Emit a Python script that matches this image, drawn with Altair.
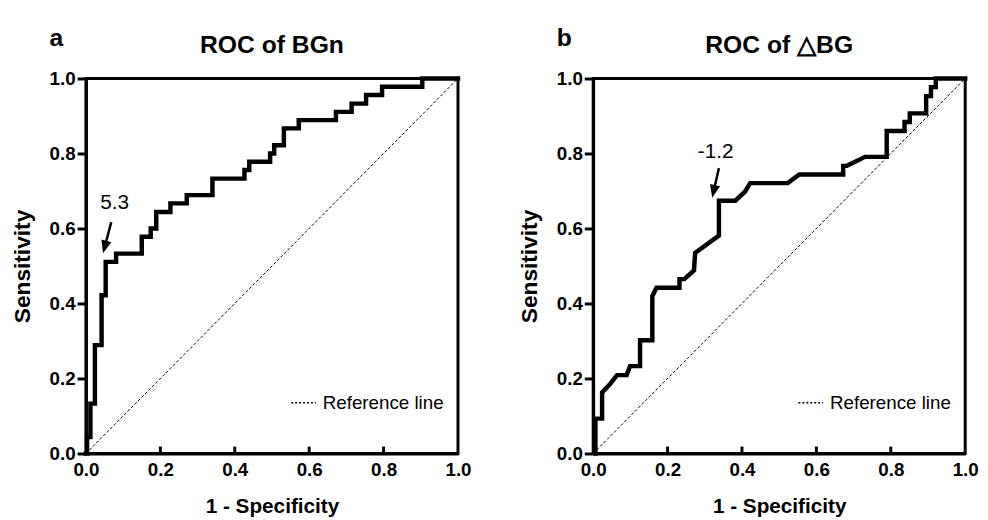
import math
import altair as alt
import pandas as pd

FONT = "Liberation Sans"
W, H = 377, 380

panel_letters = ["a", "b"]
panel_titles = ["ROC of BGn", "ROC of \u25b3BG"]
ref_label = "Reference line"
x_title = "1 - Specificity"
y_title = "Sensitivity"

# Panel a (BGn): ROC points (step-after staircase)
fpr_a = [0.0, 0.003, 0.012, 0.024, 0.042, 0.053, 0.081, 0.150, 0.174, 0.189,
         0.227, 0.271, 0.340, 0.426, 0.439, 0.495, 0.506, 0.532, 0.572, 0.672,
         0.714, 0.753, 0.796, 0.904, 1.0]
tpr_a = [0.0, 0.044, 0.133, 0.289, 0.422, 0.511, 0.533, 0.578, 0.600, 0.644,
         0.667, 0.689, 0.733, 0.756, 0.778, 0.800, 0.822, 0.867, 0.889, 0.911,
         0.933, 0.956, 0.978, 1.0, 1.0]

# Panel b (delta BG): ROC points (linear)
fpr_b = [0.006, 0.006, 0.024, 0.024, 0.046, 0.064, 0.090, 0.099, 0.126, 0.126,
         0.159, 0.159, 0.170, 0.232, 0.232, 0.245, 0.271, 0.274, 0.338, 0.338,
         0.382, 0.408, 0.422, 0.523, 0.554, 0.672, 0.672, 0.682, 0.731, 0.789,
         0.789, 0.837, 0.837, 0.851, 0.851, 0.895, 0.895, 0.908, 0.908, 0.921,
         0.921, 1.0]
tpr_b = [0.0, 0.093, 0.093, 0.163, 0.186, 0.209, 0.209, 0.233, 0.233, 0.302,
         0.302, 0.419, 0.442, 0.442, 0.465, 0.465, 0.488, 0.535, 0.581, 0.674,
         0.674, 0.698, 0.721, 0.721, 0.744, 0.744, 0.767, 0.767, 0.791, 0.791,
         0.860, 0.860, 0.884, 0.884, 0.907, 0.907, 0.953, 0.953, 0.977, 0.977,
         1.0, 1.0]

cutoff_labels = ["5.3", "-1.2"]
label_x = [0.077, 0.329]
label_y = [0.669, 0.805]
arrow_tail_x = [0.068, 0.338]
arrow_tail_y = [0.617, 0.761]
arrow_head_x = [0.046, 0.320]
arrow_head_y = [0.534, 0.682]

ref_x = [0.0, 1.0]
ref_y = [0.0, 1.0]
axis_ticks = [0.0, 0.2, 0.4, 0.6, 0.8, 1.0]
inner_ticks = [0.2, 0.4, 0.6, 0.8]

ARROW_PATH = "M0,0L-0.4,-1L0.4,-1Z"


def make_panel(i, fpr, tpr, interp):
    scale = alt.Scale(domain=[0, 1], nice=False, zero=False)
    x_enc = alt.X(
        "x:Q", scale=scale,
        axis=alt.Axis(values=axis_ticks, format=".1f", title=x_title,
                      ticks=False, grid=False, domainWidth=3, domainColor="black",
                      labelFontSize=19, labelFontWeight="bold", labelColor="black",
                      labelPadding=7, labelFlush=False, labelOverlap=False,
                      titleFontSize=21, titleFontWeight="bold", titleColor="black",
                      titlePadding=17, labelFont=FONT, titleFont=FONT))
    y_enc = alt.Y(
        "y:Q", scale=scale,
        axis=alt.Axis(values=axis_ticks, format=".1f", title=y_title,
                      ticks=True, tickSize=9, tickWidth=3, tickColor="black",
                      grid=False, domainWidth=3, domainColor="black",
                      labelFontSize=19, labelFontWeight="bold", labelColor="black",
                      labelPadding=2, labelFlush=False, labelOverlap=False,
                      titleFontSize=23, titleFontWeight="bold", titleColor="black",
                      titlePadding=15, labelFont=FONT, titleFont=FONT))

    ref_df = pd.DataFrame({"x": ref_x, "y": ref_y, "series": [ref_label] * 2})
    ref = alt.Chart(ref_df).mark_line(strokeWidth=1, strokeDash=[3, 2]).encode(
        x=x_enc, y=y_enc,
        color=alt.Color(
            "series:N",
            scale=alt.Scale(domain=[ref_label], range=["black"]),
            legend=alt.Legend(title=None, orient="none", legendX=207, legendY=315,
                              symbolType="stroke", symbolDash=[2, 2],
                              symbolStrokeWidth=1.5, symbolSize=625,
                              symbolStrokeColor="black", labelFontSize=19,
                              labelFont=FONT, labelColor="black", labelOffset=6,
                              padding=0)))

    roc_df = pd.DataFrame({"x": fpr, "y": tpr, "idx": list(range(len(fpr)))})
    roc = alt.Chart(roc_df).mark_line(
        strokeWidth=4.5, color="black", interpolate=interp,
        strokeJoin="miter", strokeCap="square").encode(
        x=x_enc, y=y_enc, order="idx:Q")

    tick_df = pd.DataFrame({"x": inner_ticks})
    ticks = alt.Chart(tick_df).mark_rule(strokeWidth=3, color="black").encode(
        x=x_enc, y=alt.value(H), y2=alt.value(H - 7))

    tx, ty = arrow_tail_x[i], arrow_tail_y[i]
    hx, hy = arrow_head_x[i], arrow_head_y[i]
    sx = tx + (hx - tx) * 0.7
    sy = ty + (hy - ty) * 0.7
    shaft_df = pd.DataFrame({"x": [tx], "y": [ty], "x2": [sx], "y2": [sy]})
    shaft = alt.Chart(shaft_df).mark_rule(strokeWidth=2.5, color="black").encode(
        x=x_enc, y=y_enc, x2="x2:Q", y2="y2:Q")

    dx = (hx - tx) * W
    dy = -(hy - ty) * H
    ang = math.degrees(math.atan2(-dx, dy)) % 360
    head_df = pd.DataFrame({"x": [hx], "y": [hy]})
    head = alt.Chart(head_df).mark_point(
        shape=ARROW_PATH, filled=True, size=676, color="black", opacity=1,
        strokeWidth=0, angle=ang).encode(x=x_enc, y=y_enc)

    lab_df = pd.DataFrame({"x": [label_x[i]], "y": [label_y[i]], "t": [cutoff_labels[i]]})
    lab = alt.Chart(lab_df).mark_text(
        fontSize=21, font=FONT, color="black", align="center", baseline="middle").encode(
        x=x_enc, y=y_enc, text="t:N")

    let_df = pd.DataFrame({"t": [panel_letters[i]]})
    letter = alt.Chart(let_df).mark_text(
        fontSize=25, fontWeight="bold", font=FONT, color="black",
        align="left", baseline="alphabetic").encode(
        x=alt.value(-37), y=alt.value(-33), text="t:N")

    ttl_df = pd.DataFrame({"t": [panel_titles[i]]})
    ttl = alt.Chart(ttl_df).mark_text(
        fontSize=25, fontWeight="bold", font=FONT, color="black",
        align="center", baseline="alphabetic").encode(
        x=alt.value(W / 2), y=alt.value(-26), text="t:N")

    return alt.layer(ref, roc, ticks, shaft, head, lab, letter, ttl).properties(
        width=W, height=H)


pa = make_panel(0, fpr_a, tpr_a, "step-after")
pb = make_panel(1, fpr_b, tpr_b, "linear")

chart = alt.hconcat(pa, pb, spacing=45).resolve_scale(
    color="independent").resolve_legend(color="independent").configure_view(
    stroke="black", strokeWidth=3).properties(
    padding={"left": 2, "top": 13, "right": 0, "bottom": 0},
    background="white")

chart.save("out.html", embed_options={"renderer": "svg", "actions": False})
